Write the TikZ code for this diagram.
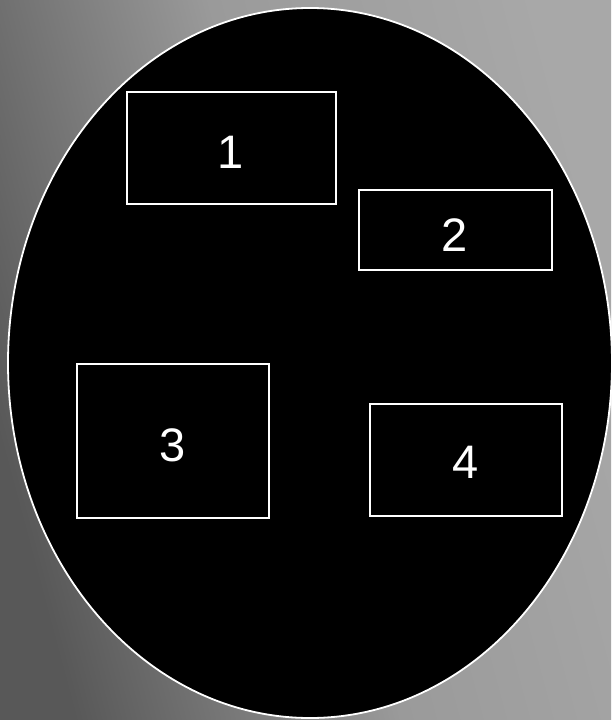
\documentclass[tikz,border=0pt]{standalone}
\usepackage{fontspec}
\setmainfont{Liberation Sans}
\definecolor{gA}{HTML}{585858}
\definecolor{gB}{HTML}{9A9A9A}
\definecolor{gC}{HTML}{A8A8A8}
\pgfdeclarehorizontalshading{bgshade}{100bp}{color(0bp)=(gA); color(25bp)=(gA); color(50bp)=(gB); color(75bp)=(gC); color(100bp)=(gC)}
\begin{document}
\begin{tikzpicture}[x=1pt,y=-1pt,
  box/.style={draw=white,line width=1.6pt,fill=black,inner sep=0pt},
  lbl/.style={text=white,font=\fontsize{47}{47}\selectfont,inner sep=0pt}]
\useasboundingbox (0,0) rectangle (611,720);
\shade[shading=bgshade,shading angle=15] (0,0) rectangle (611,720);
\draw[white,line width=1.8pt,fill=black] (310,363) ellipse [x radius=302,y radius=355];
\node[box,minimum width=209pt,minimum height=112pt] (b1) at (231.5,148) {};
\node[box,minimum width=193pt,minimum height=80pt] (b2) at (455.5,230) {};
\node[box,minimum width=192pt,minimum height=154pt] (b3) at (173,441) {};
\node[box,minimum width=192pt,minimum height=112pt] (b4) at (466,460) {};
\node[lbl] (t1) at (231,152) {1};
\node[lbl] (t2) at (455,235) {2};
\node[lbl] (t3) at (173,445) {3};
\node[lbl] (t4) at (466,462) {4};
\end{tikzpicture}
\end{document}
